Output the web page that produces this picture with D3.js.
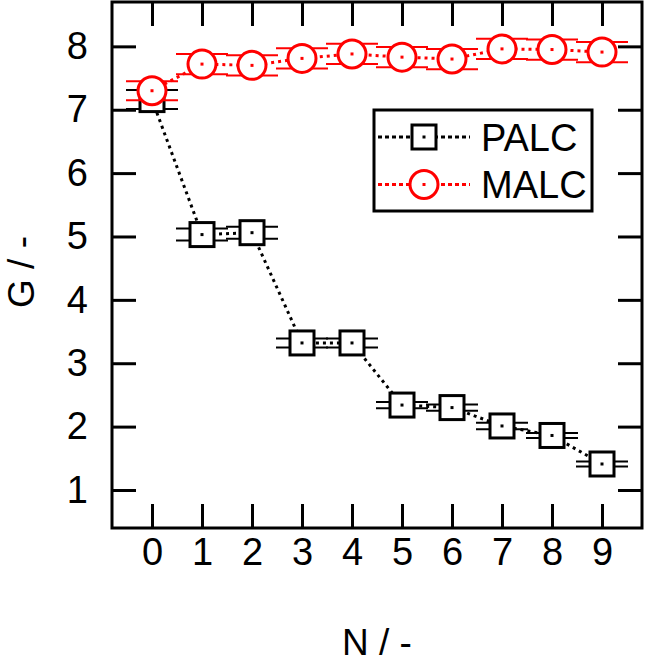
<!DOCTYPE html>
<html>
<head>
<meta charset="utf-8">
<script src="https://cdnjs.cloudflare.com/ajax/libs/d3/7.8.5/d3.min.js"></script>
<style>
  html, body { margin: 0; padding: 0; background: #fff; }
  #canvas { width: 645px; height: 664px; }
  text { font-family: Arial, "Liberation Sans", sans-serif; }
</style>
</head>
<body>
<div id="canvas" class="canvas"></div>
<script>
// data
var nValues = [0, 1, 2, 3, 4, 5, 6, 7, 8, 9];
var palc = [7.16, 5.03, 5.06, 3.32, 3.32, 2.34, 2.30, 2.01, 1.86, 1.41];
var palcErr = [0.15, 0.095, 0.095, 0.07, 0.07, 0.05, 0.05, 0.05, 0.04, 0.04];
var malc = [7.30, 7.72, 7.70, 7.81, 7.88, 7.83, 7.80, 7.96, 7.95, 7.91];
var malcErr = [0.15, 0.16, 0.16, 0.16, 0.16, 0.16, 0.16, 0.16, 0.16, 0.16];
var yTicks = [1, 2, 3, 4, 5, 6, 7, 8];
var seriesNames = ['PALC', 'MALC'];
var seriesColors = ['#000', '#ff0000'];

var W = 645, H = 664;
var m = {t:2, r:3, b:136, l:112};
var w = W - m.l - m.r,
    h = H - m.t - m.b;

var svg = d3.select('.canvas')
    .append('svg')
    .attr('width', W)
    .attr('height', H);
var plot = svg.append('g')
    .attr('transform', 'translate(' + m.l + ',' + m.t + ')');

//Scale
var scaleX = d3.scaleLinear().domain([-0.8, 9.8]).range([0, w]);
var scaleY = d3.scaleLinear().domain([0.4, 8.7]).range([h, 0]);

//Axis - ticks point inward on all four sides
var TICK = 24;
var axisB = d3.axisBottom(scaleX).tickValues(nValues).tickFormat(d3.format('d')).tickSize(-TICK).tickPadding(10);
var axisT = d3.axisTop(scaleX).tickValues(nValues).tickFormat('').tickSize(-TICK);
var axisL = d3.axisLeft(scaleY).tickValues(yTicks).tickFormat(d3.format('d')).tickSize(-TICK).tickPadding(24);
var axisR = d3.axisRight(scaleY).tickValues(yTicks).tickFormat('').tickSize(-TICK);

function styleAxis(g){
    g.select('.domain').remove();
    g.selectAll('line').attr('stroke', '#000').attr('stroke-width', 3);
    g.selectAll('text')
        .attr('fill', '#000')
        .style('font-family', 'Arial, "Liberation Sans", sans-serif')
        .style('font-size', '38px');
}

plot.append('g').attr('transform', 'translate(0,' + h + ')').call(axisB).call(styleAxis);
plot.append('g').call(axisT).call(styleAxis);
plot.append('g').call(axisL).call(styleAxis);
plot.append('g').attr('transform', 'translate(' + w + ',0)').call(axisR).call(styleAxis);

// frame
plot.append('rect')
    .attr('width', w).attr('height', h)
    .attr('fill', 'none').attr('stroke', '#000').attr('stroke-width', 3);

// axis titles
svg.append('text')
    .attr('x', m.l + w / 2).attr('y', 655)
    .attr('text-anchor', 'middle')
    .style('font-size', '37px')
    .text('N / -');
svg.append('text')
    .attr('transform', 'translate(34,272) rotate(-90)')
    .attr('text-anchor', 'middle')
    .style('font-size', '37px')
    .text('G / -');

//draw series
var CAP = 26;
draw(palc, palcErr, seriesColors[0], 'square');
draw(malc, malcErr, seriesColors[1], 'circle');

function marker(g, shape, color){
    if (shape === 'square') {
        g.append('rect')
            .attr('x', -12).attr('y', -12).attr('width', 24).attr('height', 24)
            .attr('fill', '#fff').attr('stroke', color).attr('stroke-width', 3);
    } else {
        g.append('circle')
            .attr('r', 14)
            .attr('fill', '#fff').attr('stroke', color).attr('stroke-width', 3);
    }
    g.append('rect')
        .attr('x', -1.5).attr('y', -1.5).attr('width', 3).attr('height', 3)
        .attr('fill', color);
}

function draw(vals, errs, color, shape){
    var rows = nValues.map(function(n, i){
        return {n: n, v: vals[i], e: errs[i]};
    });

    var line = d3.line()
        .x(function(d){ return scaleX(d.n); })
        .y(function(d){ return scaleY(d.v); });

    plot.append('path')
        .datum(rows)
        .attr('d', line)
        .attr('fill', 'none')
        .attr('stroke', color)
        .attr('stroke-width', 3)
        .attr('stroke-dasharray', '3,4');

    var err = plot.append('g').selectAll('g')
        .data(rows).enter().append('g')
        .attr('transform', function(d){ return 'translate(' + scaleX(d.n) + ',0)'; });
    [-1, 1].forEach(function(s){
        err.append('line')
            .attr('x1', -CAP).attr('x2', CAP)
            .attr('y1', function(d){ return scaleY(d.v + s * d.e); })
            .attr('y2', function(d){ return scaleY(d.v + s * d.e); })
            .attr('stroke', color).attr('stroke-width', 2);
    });
    err.append('line')
        .attr('x1', 0).attr('x2', 0)
        .attr('y1', function(d){ return scaleY(d.v - d.e); })
        .attr('y2', function(d){ return scaleY(d.v + d.e); })
        .attr('stroke', color).attr('stroke-width', 2);

    plot.append('g').selectAll('g')
        .data(rows).enter().append('g')
        .attr('transform', function(d){ return 'translate(' + scaleX(d.n) + ',' + scaleY(d.v) + ')'; })
        .each(function(){ marker(d3.select(this), shape, color); });
}

//legend
var lg = svg.append('g');
lg.append('rect')
    .attr('x', 374).attr('y', 110).attr('width', 218).attr('height', 101)
    .attr('fill', '#fff').attr('stroke', '#000').attr('stroke-width', 3);
seriesNames.forEach(function(name, i){
    var cy = 137 + i * 47.5;
    lg.append('line')
        .attr('x1', 378).attr('x2', 470).attr('y1', cy).attr('y2', cy)
        .attr('stroke', seriesColors[i]).attr('stroke-width', 3)
        .attr('stroke-dasharray', '4,3');
    var g = lg.append('g').attr('transform', 'translate(424,' + cy + ')');
    marker(g, i === 0 ? 'square' : 'circle', seriesColors[i]);
    lg.append('text')
        .attr('x', 481).attr('y', cy + 13.5)
        .style('font-size', '38px')
        .attr('fill', '#000')
        .text(name);
});
</script>
</body>
</html>
